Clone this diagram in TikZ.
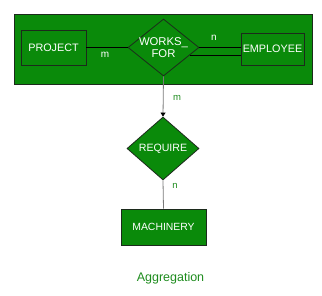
\documentclass[tikz,border=0pt]{standalone}
\usepackage{fontspec}
\setmainfont{Liberation Sans}
\usetikzlibrary{shapes.geometric,arrows.meta,calc}
\definecolor{erfill}{HTML}{0A8A0A}
\definecolor{erline}{HTML}{1C2A1C}
\definecolor{erlabel}{HTML}{1E8C1E}
\definecolor{linkgray}{HTML}{7A7A7A}
\tikzset{
  entity/.style={draw=erline, fill=erfill, line width=0.7pt, inner sep=0pt, text=white, font=\fontsize{10.8}{12}\selectfont},
  relation/.style={diamond, draw=erline, fill=erfill, line width=0.8pt, inner sep=0pt},
  reltext/.style={text=white, font=\fontsize{11.3}{12.5}\selectfont, align=center},
  inlabel/.style={text=white, font=\fontsize{10}{11}\selectfont},
  outlabel/.style={text=erlabel, font=\fontsize{9.5}{10}\selectfont},
  link/.style={line width=0.8pt}
}
\begin{document}
\begin{tikzpicture}[x=1pt,y=-1pt]
  \useasboundingbox (0,0) rectangle (322,296);
  % aggregated relationship enclosure
  \node[draw=erline, fill=erfill, line width=0.8pt, minimum width=298pt, minimum height=70pt, inner sep=0pt] (agg) at (163,49) {};
  % entities and relationship inside the aggregate
  \node[entity, minimum width=65pt, minimum height=35pt] (proj) at (53.5,47.5) {PROJECT};
  \node[entity, minimum width=63pt, minimum height=32pt] (emp) at (272.5,49) {EMPLOYEE};
  \node[relation, minimum width=71pt, minimum height=57pt,
        label={[reltext]center:WORKS\_\\FOR}] (wf) at (163.5,47.5) {};
  \draw[link, black] (proj.east |- wf.west) -- (wf.west);
  \coordinate (wfl) at ($(wf.east)!0.26!(wf.south)$);
  \draw[link, black] (wf.east) -- (emp.west |- wf.east);
  \draw[link, black] (wfl) -- (emp.west |- wfl);
  \node[inlabel] (m1) at (105,55) {m};
  \node[inlabel] (n1) at (214,38) {n};
  % relationship with the aggregate
  \node[relation, minimum width=72pt, minimum height=63pt,
        label={[reltext, font=\fontsize{10.6}{12}\selectfont]center:REQUIRE}] (req) at (163,148.5) {};
  \node[entity, minimum width=85pt, minimum height=36pt, font=\fontsize{10.4}{12}\selectfont] (mach) at (163.5,227) {MACHINERY};
  \draw[link, linkgray, -{Triangle[width=5pt,length=4pt,color=black]}] (wf.south) -- (req.north);
  \draw[link, linkgray] (req.south) -- (mach.north);
  \node[outlabel] (m2) at (177,98) {m};
  \node[outlabel] (n2) at (175,186) {n};
  \node[text=erlabel, font=\fontsize{12.5}{14}\selectfont] (cap) at (170.5,278) {Aggregation};
\end{tikzpicture}
\end{document}
